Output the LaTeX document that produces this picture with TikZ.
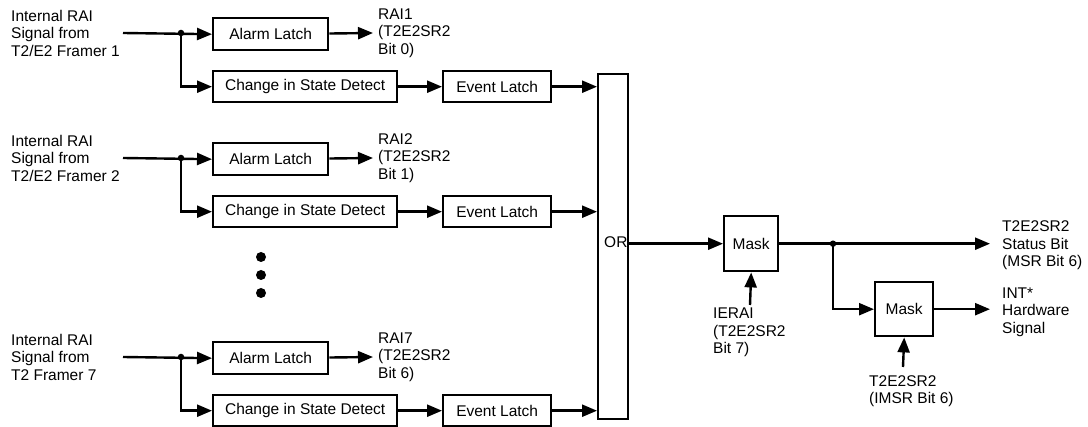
\documentclass[tikz,border=0pt]{standalone}
\usepackage{fontspec}
\setmainfont{Liberation Sans}
\usetikzlibrary{arrows.meta}
\newcommand\fsz{\fontsize{15.5}{17.5}\selectfont}
\newcommand\raiGroupX[5]{%
  \node[lbl, anchor=west] (src#1) at (10,#2) {Internal RAI\\Signal from\\#3};
  \coordinate (in#1) at (123,#2);
  \node[box, minimum width=115pt, minimum height=32pt] (al#1) at (212,#2-16) {Alarm Latch};
  \node[box, minimum width=184pt, minimum height=31pt] (cs#1) at (212,#2+37) {Change in State Detect};
  \node[box, minimum width=108pt, minimum height=31pt] (ev#1) at (442,#2+37) {Event Latch};
  \node[jdot] (j#1) at (181,#2) {};
  \draw[arr] (in#1) -- (al#1.west);
  \draw[arr] (j#1.center) |- (cs#1.west);
  \draw[arr] (cs#1) -- (ev#1);
  \coordinate (ra#1) at (373,#2);
  \draw[arr] (al#1) -- (ra#1);
  \node[lbl, anchor=west] (rt#1) at (377,#2) {#4\\(T2E2SR2\\Bit #5)};
}
\begin{document}
\begin{tikzpicture}[x=1pt,y=-1pt, line width=2.4pt,
  box/.style={draw, line width=2.4pt, inner sep=0pt, anchor=north west, font=\fsz},
  lbl/.style={align=left, inner sep=0pt, font=\fsz},
  arr/.style={-{Triangle[length=15pt,width=12pt]}},
  jdot/.style={circle, fill, inner sep=0pt, minimum size=6.5pt},
  bigdot/.style={circle, fill, inner sep=0pt, minimum size=10pt}]
\fill[white] (0,0) rectangle (1088,427);
\useasboundingbox (0,0) rectangle (1088,427);

\raiGroupX{1}{33}{T2/E2 Framer 1}{RAI1}{0}
\raiGroupX{2}{158}{T2/E2 Framer 2}{RAI2}{1}
\raiGroupX{3}{357}{T2 Framer 7}{RAI7}{6}

% vertical ellipsis
\node[bigdot] (d1) at (261,257) {};
\node[bigdot] (d2) at (261,275) {};
\node[bigdot] (d3) at (261,293) {};

% OR box
\node[box, minimum width=30pt, minimum height=345pt] (or) at (597,73) {};
\node[lbl, anchor=west] (ortxt) at (603,242.5) {OR};
\foreach \i in {1,2,3} {
  \draw[arr] (ev\i) -- (ev\i -| or.west);
}

% mask 1
\node[box, minimum width=54pt, minimum height=55pt] (m1) at (723,215) {Mask};
\draw[arr] (m1.west -| or.east) -- (m1.west);
\coordinate (ie) at (750,305);
\draw[arr] (ie) -- (m1.south);
\node[lbl, anchor=north west] (ietxt) at (712,307) {IERAI\\(T2E2SR2\\Bit 7)};

% outputs
\coordinate (ox) at (990,0);
\coordinate (jx) at (833,0);
\node[jdot] (j4) at (jx |- m1.east) {};
\draw[arr] (m1.east) -- (ox |- m1.east);
\node[lbl, anchor=west] (st) at (1001,245.5) {T2E2SR2\\Status Bit\\(MSR Bit 6)};

\node[box, minimum width=58pt, minimum height=54pt] (m2) at (874,281) {Mask};
\draw[arr] (j4.center) |- (m2.west);
\draw[arr] (m2.east) -- (ox |- m2.east);
\node[lbl, anchor=west] (it) at (1001,312) {INT*\\Hardware\\Signal};
\coordinate (im) at (903,367);
\draw[arr] (im) -- (m2.south);
\node[lbl, anchor=north west] (imtxt) at (868,374) {T2E2SR2\\(IMSR Bit 6)};
\end{tikzpicture}
\end{document}
